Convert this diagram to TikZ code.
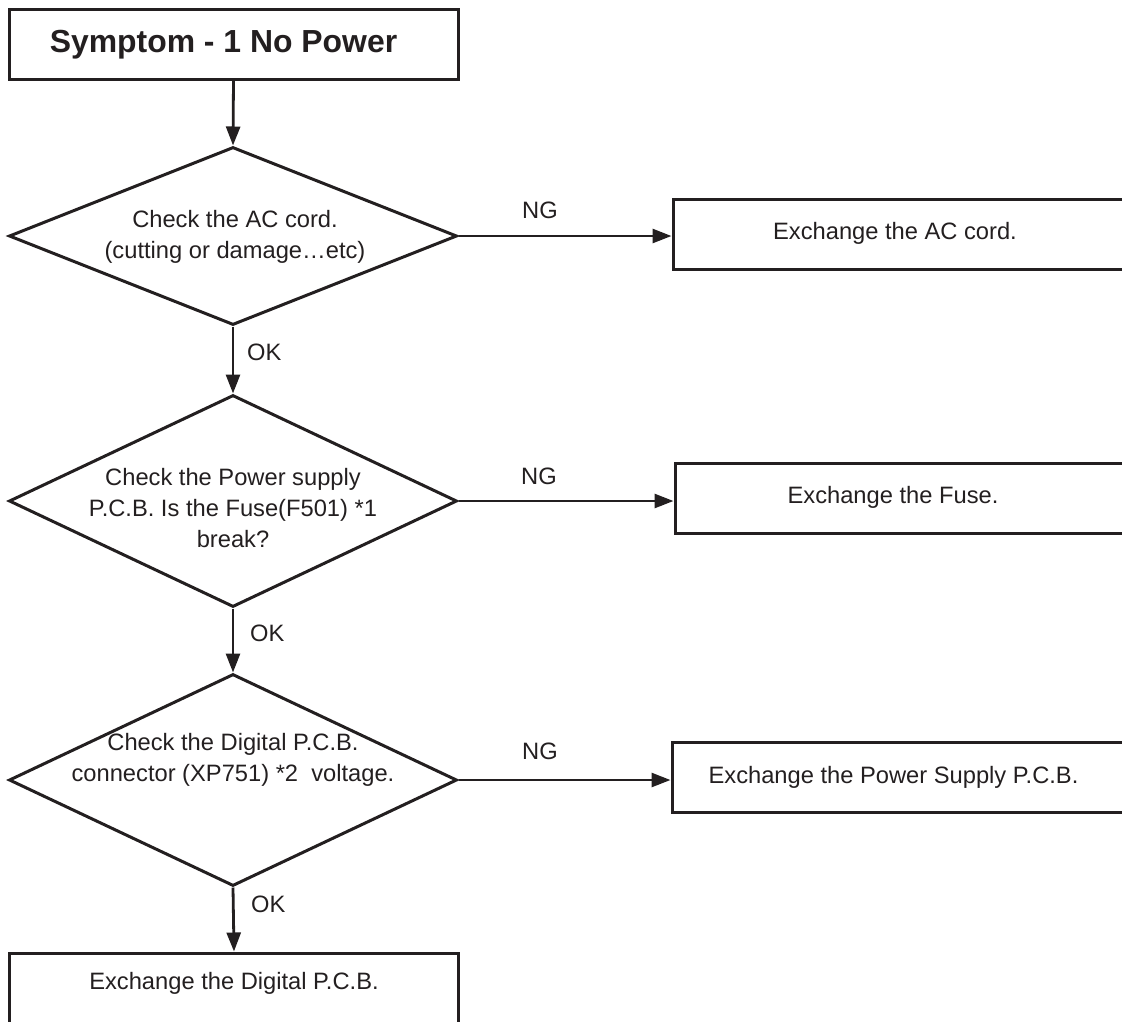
\documentclass[tikz,border=0pt]{standalone}
\usepackage{fontspec}
\setmainfont{Liberation Sans}
\usetikzlibrary{shapes.geometric,arrows.meta}
\definecolor{ink}{RGB}{35,31,32}
\begin{document}
\begin{tikzpicture}[x=1pt,y=-1pt,
  shapeline/.style={draw=ink, line width=3pt},
  box/.style={shapeline, rectangle, minimum width=449pt, minimum height=70pt, inner sep=0pt},
  dia/.style={shapeline, diamond, minimum width=448pt, inner sep=0pt},
  txt/.style={font=\fontsize{23.7}{31}\selectfont, text=ink, align=center, inner sep=0pt},
  flow/.style={draw=ink, line width=2.8pt, -{Triangle[length=19pt,width=14pt]}},
]
\useasboundingbox (0,0) rectangle (1122,1021);
\clip (0,0) rectangle (1122,1021);

% title
\node[box] (top) at (233.5,44) {};
\node[txt, font=\bfseries\fontsize{31.9}{38}\selectfont] (topt) at (223.5,45.1) {\strut Symptom - 1 No Power};

% decisions
\node[dia, minimum height=178pt] (d1) at (233,236) {};
\node[txt] (d1t) at (235,236.8) {\strut Check the AC cord.\\(cutting or damage…etc)\strut};

\node[dia, minimum height=212pt] (d2) at (233,501) {};
\node[txt] (d2t) at (233,510.3) {\strut Check the Power supply\\P.C.B. Is the Fuse(F501) *1\\break?\strut};

\node[dia, minimum height=212pt] (d3) at (233,780) {};
\node[txt] (d3t) at (233,759.6) {\strut Check the Digital P.C.B.\\connector (XP751) *2~ voltage.\strut};

% action boxes
\node[box, minimum width=456pt] (b1) at (901,234) {};
\node[txt] (b1t) at (895,232.8) {\strut Exchange the AC cord.};

\node[box, minimum width=456pt] (b2) at (903,498) {};
\node[txt] (b2t) at (893,496.8) {\strut Exchange the Fuse.};

\node[box, minimum width=456pt] (b3) at (900,777) {};
\node[txt] (b3t) at (893.5,776.8) {\strut Exchange the Power Supply P.C.B.};

\node[box, minimum height=80pt] (b4) at (234,993) {};
\node[txt] (b4t) at (234,982.8) {\strut Exchange the Digital P.C.B.};

% connectors
\draw[flow] (top.south) -- (d1.north);
\draw[flow] (d1.south) -- (d2.north);
\draw[flow] (d2.south) -- (d3.north);
\draw[flow] (d3.south) -- (b4.north);
\draw[flow] (d1.east) -- (d1.east -| b1.west);
\draw[flow] (d2.east) -- (d2.east -| b2.west);
\draw[flow] (d3.east) -- (d3.east -| b3.west);

% labels
\node[txt] (ng1) at (540,211.8) {\strut NG};
\node[txt] (ng2) at (539,477.8) {\strut NG};
\node[txt] (ng3) at (540,752.8) {\strut NG};
\node[txt, anchor=west] (ok1) at (247,353.8) {\strut OK};
\node[txt, anchor=west] (ok2) at (250,635) {\strut OK};
\node[txt, anchor=west] (ok3) at (251,905.8) {\strut OK};
\end{tikzpicture}
\end{document}
